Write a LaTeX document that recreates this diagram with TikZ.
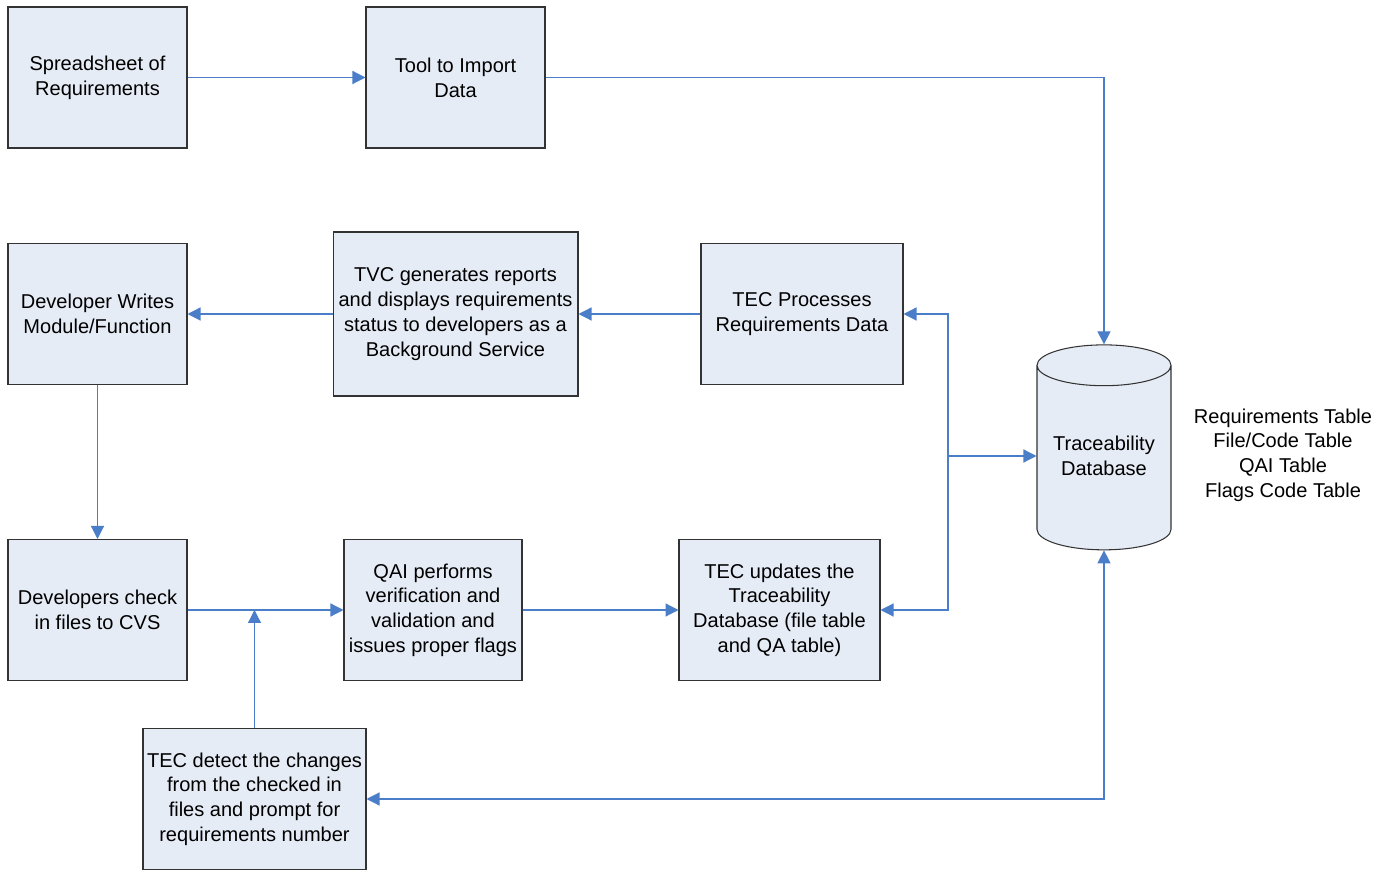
\documentclass[tikz,border=0pt]{standalone}
\usepackage{fontspec}
\setmainfont{Liberation Sans}
\usetikzlibrary{arrows.meta,positioning,shapes.geometric}
\definecolor{boxfill}{HTML}{E6ECF6}
\definecolor{linkblue}{HTML}{4A7EC8}

\begin{document}
\begin{tikzpicture}[x=0.02cm,y=-0.02cm,
		proc/.style={rectangle,draw=black!80,fill=boxfill,line width=0.6pt,align=center,
			font=\fontsize{11.4}{14.1}\selectfont,minimum width=3.58cm,minimum height=2.82cm,inner sep=2pt},
		link/.style={draw=linkblue,line width=0.7pt,-{Triangle[length=0.26cm,width=0.26cm]}},
		semithick]

		\useasboundingbox (0,0) rectangle (1387,871);

		\node[proc] (spreadsheet) at (97.5,77.5) {Spreadsheet of\\Requirements};
		\node[proc] (importtool) at (455.5,77.5) {Tool to Import\\Data};
		\node[proc] (devwrites) at (97.5,314) {Developer Writes\\Module/Function};
		\node[proc,minimum width=4.9cm,minimum height=3.28cm] (tvc) at (455.5,314)
			{TVC generates reports\\and displays requirements\\status to developers as a\\Background Service};
		\node[proc,minimum width=4.04cm] (tecproc) at (802,314) {TEC Processes\\Requirements Data};
		\node[proc] (devcheck) at (97.5,610) {Developers check\\in files to CVS};
		\node[proc,minimum width=3.56cm] (qai) at (433,610)
			{QAI performs\\verification and\\validation and\\issues proper flags};
		\node[proc,minimum width=4.02cm] (tecupd) at (779.5,610)
			{TEC updates the\\Traceability\\Database (file table\\and QA table)};
		\node[proc,minimum width=4.46cm] (tecdetect) at (254.5,799)
			{TEC detect the changes\\from the checked in\\files and prompt for\\requirements number};
		\node[cylinder,shape border rotate=90,draw=black!80,fill=boxfill,line width=0.6pt,
			aspect=0.36,minimum width=2.68cm,minimum height=4.1cm,align=center,
			font=\fontsize{11.4}{14.1}\selectfont,
			label={[align=center,yshift=0.13cm,font=\fontsize{11.4}{14.1}\selectfont]center:Traceability\\Database}]
			(tracedb) at (1104,462) {\phantom{Traceability}\\\phantom{Database}};
		\node[align=center,font=\fontsize{11.4}{14.1}\selectfont] (tables) at (1283,455)
			{Requirements Table\\File/Code Table\\QAI Table\\Flags Code Table};

		\coordinate (jn) at (948,456);

		\path (spreadsheet) edge[link] (importtool)
		(tecproc) edge[link] (tvc)
		(tvc) edge[link] (devwrites)
		(devwrites) edge[link] (devcheck)
		(devcheck) edge[link] (qai)
		(qai) edge[link] (tecupd);
		\draw[link] (importtool.east) -| (tracedb.north);
		\draw[link] (jn) -- (jn -| tracedb.west);
		\draw[link] (jn) |- (tecproc.east);
		\draw[link] (jn) |- (tecupd.east);
		\draw[link] (tecdetect.north) -- (tecdetect.north |- devcheck.east);
		\draw[link,{Triangle[length=0.26cm,width=0.26cm]}-{Triangle[length=0.26cm,width=0.26cm]}]
			(tecdetect.east) -| (tracedb.south);
	\end{tikzpicture}
\end{document}
